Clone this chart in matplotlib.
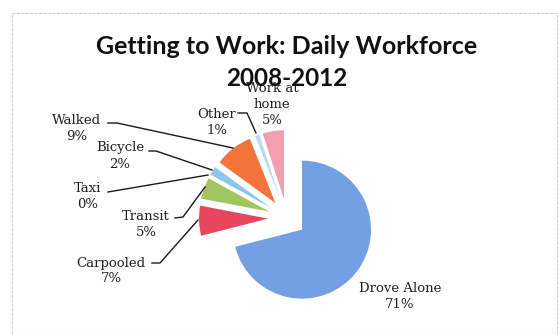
import matplotlib.pyplot as plt
from matplotlib.patches import Rectangle

# commute mode shares, clockwise from 12 o'clock
modes = ['Drove Alone', 'Carpooled', 'Transit', 'Taxi', 'Bicycle', 'Walked', 'Other', 'Work at\nhome']
shares = [71, 7, 5, 0, 2, 9, 1, 5]
colors = ['#72a0e2', '#e8465e', '#a3c55e', '#dddddd', '#8cc6ec', '#f2743a', '#b5dcf2', '#f29fb0']

# label block centres (pixels) and leader lines
label_pos = [(400, 296), (111, 271), (146, 224), (88, 197), (120, 156), (77, 129), (217, 122), (272, 104)]
leaders = [
    None,
    [(152, 263), (160, 263), (198, 220)],
    [(175, 218), (183, 217), (205, 187)],
    [(108, 192), (208, 175)],
    [(149, 151), (156, 151), (212, 170)],
    [(108, 123), (117, 123), (233, 148)],
    [(238, 113), (247, 113), (256, 133)],
    None,
]

W, H = 559, 335
fig = plt.figure(figsize=(W / 100, H / 100), dpi=100)
ax = fig.add_axes([0, 0, 1, 1])

# y axis runs downward, so counterclock in data = clockwise on screen
# explode is in data units (pixels here)
ax.pie(shares, colors=colors, startangle=-90, counterclock=True,
       center=(287, 218), radius=69, explode=[19] * len(shares),
       wedgeprops=dict(linewidth=0), normalize=True)
ax.set_xlim(0, W)
ax.set_ylim(H, 0)
ax.set_aspect('equal')
ax.axis('off')

for name, val, (x, y), pts in zip(modes, shares, label_pos, leaders):
    ax.text(x, y, f'{name}\n{val}%', ha='center', va='center',
            family='DejaVu Serif', fontsize=9.5, color='#222222', linespacing=1.3)
    if pts:
        ax.plot([p[0] for p in pts], [p[1] for p in pts], color='#1a1a1a', lw=1)

ax.text(287, 47, 'Getting to Work: Daily Workforce', ha='center', va='center',
        family='Lato', fontweight='bold', fontsize=18, color='#111111')
ax.text(287, 78, '2008-2012', ha='center', va='center',
        family='Lato', fontweight='bold', fontsize=17.5, color='#111111')

fig.add_artist(Rectangle((12 / W, 0), (557 - 12) / W, (H - 13) / H,
                         transform=fig.transFigure, fill=False,
                         edgecolor='#cfcfcf', lw=0.8, ls=(0, (3, 1))))

fig.savefig('out.png', dpi=100)
